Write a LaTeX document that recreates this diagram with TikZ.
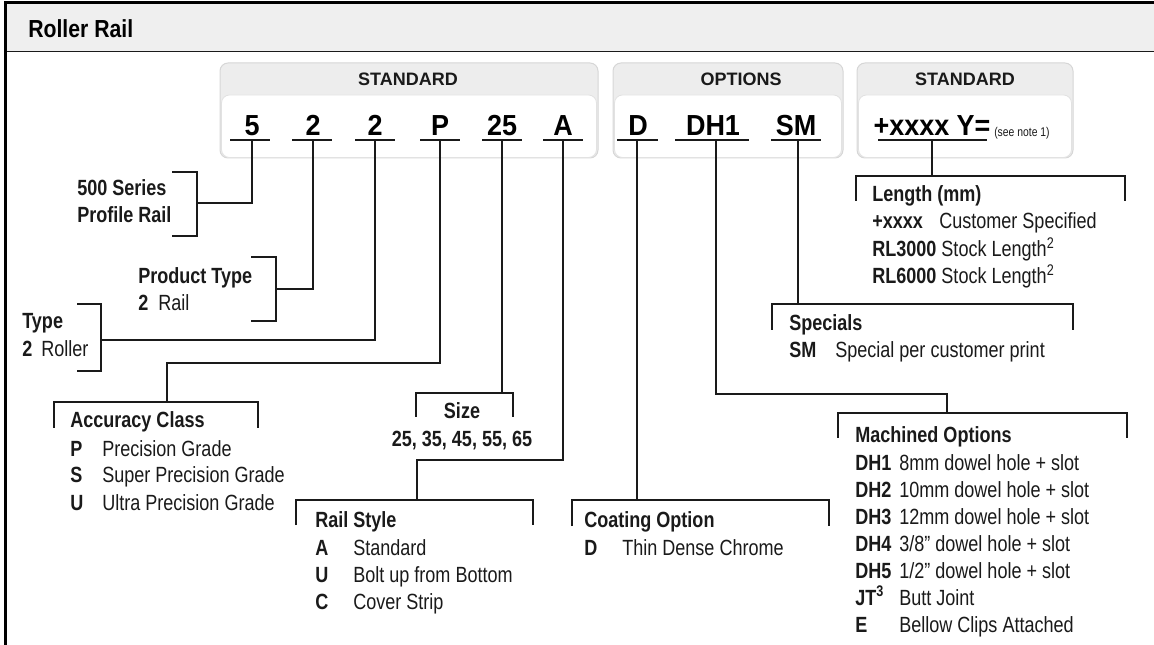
\documentclass[tikz,border=0pt]{standalone}
\usepackage{fontspec}
\setmainfont[FakeStretch=0.82]{Liberation Sans}
\newfontfamily\hdrfont{Liberation Sans}
\newfontfamily\codefont[FakeStretch=0.93]{Liberation Sans}
\newfontfamily\ttlfont[FakeStretch=0.86]{Liberation Sans}
\definecolor{bandgray}{HTML}{EFEFEF}
\definecolor{boxgray}{HTML}{EDEDED}
\definecolor{boxline}{HTML}{D6D6D6}
\definecolor{ink}{HTML}{1A1A1A}
\begin{document}
\begin{tikzpicture}[x=0.75pt,y=-0.75pt,
  conn/.style={draw=ink,line width=0.9pt},
  ul/.style={draw=ink,line width=1.2pt},
  body/.style={inner sep=0pt,anchor=base west,text=ink,font=\fontsize{16.5}{18}\selectfont},
  bodyb/.style={inner sep=0pt,anchor=base west,text=ink,font=\fontsize{16.5}{18}\selectfont\bfseries},
  code/.style={inner sep=0pt,anchor=base,text=black,font=\codefont\fontsize{21.75}{24}\selectfont\bfseries},
  hdr/.style={inner sep=0pt,anchor=base,text=ink,font=\hdrfont\fontsize{13.5}{15}\selectfont\bfseries},
  grp/.style={draw=boxline,fill=boxgray,rounded corners=6pt,line width=0.75pt},
  grpin/.style={draw=boxline!70,fill=white,rounded corners=6pt,line width=0.6pt}
]
\useasboundingbox (0,0) rectangle (1154,645);
% frame
\fill[bandgray] (5,3) rectangle (1154,52);
\draw[ink,line width=0.75pt] (5,52) -- (1154,52);
\draw[black,line width=2.25pt] (5,645) -- (5,3) -- (1154,3);
\node[inner sep=0pt,anchor=base west,font=\ttlfont\fontsize{18.5}{20}\selectfont\bfseries] (title) at (28,37.5) {Roller Rail};

% group boxes
\draw[grp] (220,63) rectangle (598,158);
\draw[grpin] (221.5,95) rectangle (596.5,157.5);
\draw[grp] (613,63) rectangle (843,158);
\draw[grpin] (614.5,95) rectangle (841.5,157.5);
\draw[grp] (857,63) rectangle (1073,158);
\draw[grpin] (858.5,95) rectangle (1071.5,157.5);
\node[hdr] (h1) at (408,85.5) {STANDARD};
\node[hdr] (h2) at (741,85.5) {OPTIONS};
\node[hdr] (h3) at (965,85.5) {STANDARD};

% codes
\node[code] (c5) at (252,135.5) {5};
\node[code] (c2a) at (313,135.5) {2};
\node[code] (c2b) at (375,135.5) {2};
\node[code] (cP) at (440,135.5) {P};
\node[code] (c25) at (502,135.5) {25};
\node[code] (cA) at (563,135.5) {A};
\node[code] (cD) at (638,135.5) {D};
\node[code] (cDH) at (713,135.5) {DH1};
\node[code] (cSM) at (796,135.5) {SM};
\node[code] (cLen) at (932,135.5) {+xxxx Y=};
\node[inner sep=0pt,anchor=base west,text=ink,font=\fontsize{9.5}{10}\selectfont] (note) at (994,137) {(see note 1)};

\draw[ul] (230,140) -- (270,140);
\draw[ul] (292,140) -- (332,140);
\draw[ul] (355,140) -- (395,140);
\draw[ul] (420,140) -- (460,140);
\draw[ul] (482,140) -- (522,140);
\draw[ul] (543,140) -- (583,140);
\draw[ul] (617,140) -- (658,140);
\draw[ul] (675,140) -- (749,140);
\draw[ul] (771,140) -- (821,140);
\draw[ul] (878,140) -- (987,140);

\coordinate (u5) at (252,140);
\coordinate (u2a) at (313,140);
\coordinate (u2b) at (375,140);
\coordinate (uP) at (440,140);
\coordinate (u25) at (502,140);
\coordinate (uA) at (563,140);
\coordinate (uD) at (637,140);
\coordinate (uDH) at (716,140);
\coordinate (uSM) at (798,140);
\coordinate (uLen) at (932,140);

% brackets and connectors
\draw[conn] (172,172) -- (197,172) -- (197,236) -- (172,236);
\coordinate (j500) at (197,203);
\draw[conn] (u5) |- (j500);

\draw[conn] (251,257) -- (276,257) -- (276,321) -- (251,321);
\coordinate (jPT) at (276,289);
\draw[conn] (u2a) |- (jPT);

\draw[conn] (77,304) -- (101,304) -- (101,371) -- (77,371);
\coordinate (jTy) at (101,340);
\draw[conn] (u2b) |- (jTy);

\draw[conn] (54,428) -- (54,402) -- (258,402) -- (258,428);
\coordinate (kP) at (167,363);
\coordinate (jAcc) at (167,402);
\draw[conn] (uP) |- (kP) -- (jAcc);

\draw[conn] (416,417) -- (416,393) -- (513,393) -- (513,417);
\coordinate (jSz) at (502,393);
\draw[conn] (u25) -- (jSz);

\draw[conn] (296,525) -- (296,500) -- (533,500) -- (533,525);
\coordinate (kA) at (417,460);
\coordinate (jRail) at (417,500);
\draw[conn] (uA) |- (kA) -- (jRail);

\draw[conn] (572,526) -- (572,500) -- (829,500) -- (829,526);
\coordinate (jCo) at (637,500);
\draw[conn] (uD) -- (jCo);

\draw[conn] (838,438) -- (838,413) -- (1127,413) -- (1127,438);
\coordinate (kDH) at (947,394);
\coordinate (jMa) at (947,413);
\draw[conn] (uDH) |- (kDH) -- (jMa);

\draw[conn] (772,330) -- (772,304) -- (1073,304) -- (1073,330);
\coordinate (jSp) at (798,304);
\draw[conn] (uSM) -- (jSp);

\draw[conn] (856,201) -- (856,176) -- (1125,176) -- (1125,201);
\coordinate (jLe) at (932,176);
\draw[conn] (uLen) -- (jLe);

% texts
\node[bodyb] (s500a) at (77,196) {500 Series};
\node[bodyb] (s500b) at (77,223) {Profile Rail};

\node[bodyb] (ptT) at (138,284) {Product Type};
\node[bodyb] (ptK) at (138,311) {2};
\node[body] (ptD) at (158,311) {Rail};

\node[bodyb] (tyT) at (22,329) {Type};
\node[bodyb] (tyK) at (22,357) {2};
\node[body] (tyD) at (41,357) {Roller};

\node[bodyb] (acT) at (70,428) {Accuracy Class};
\node[bodyb] (acK1) at (70,456) {P};
\node[body] (acD1) at (102,456) {Precision Grade};
\node[bodyb] (acK2) at (70,483) {S};
\node[body] (acD2) at (102,483) {Super Precision Grade};
\node[bodyb] (acK3) at (70,510) {U};
\node[body] (acD3) at (102,510) {Ultra Precision Grade};

\node[bodyb,anchor=base] (szT) at (462,419) {Size};
\node[bodyb,anchor=base] (szV) at (462,446) {25, 35, 45, 55, 65};

\node[bodyb] (rsT) at (315,527) {Rail Style};
\node[bodyb] (rsK1) at (315,555) {A};
\node[body] (rsD1) at (353,555) {Standard};
\node[bodyb] (rsK2) at (315,582) {U};
\node[body] (rsD2) at (353,582) {Bolt up from Bottom};
\node[bodyb] (rsK3) at (315,609) {C};
\node[body] (rsD3) at (353,609) {Cover Strip};

\node[bodyb] (coT) at (584,527) {Coating Option};
\node[bodyb] (coK) at (584,555) {D};
\node[body] (coD) at (622,555) {Thin Dense Chrome};

\node[bodyb] (maT) at (855,443) {Machined Options};
\node[bodyb] (maK1) at (855,470) {DH1};
\node[body] (maD1) at (899,470) {8mm dowel hole + slot};
\node[bodyb] (maK2) at (855,497) {DH2};
\node[body] (maD2) at (899,497) {10mm dowel hole + slot};
\node[bodyb] (maK3) at (855,524) {DH3};
\node[body] (maD3) at (899,524) {12mm dowel hole + slot};
\node[bodyb] (maK4) at (855,551) {DH4};
\node[body] (maD4) at (899,551) {3/8” dowel hole + slot};
\node[bodyb] (maK5) at (855,578) {DH5};
\node[body] (maD5) at (899,578) {1/2” dowel hole + slot};
\node[bodyb] (maK6) at (855,605) {JT\textsuperscript{3}};
\node[body] (maD6) at (899,605) {Butt Joint};
\node[bodyb] (maK7) at (855,632) {E};
\node[body] (maD7) at (899,632) {Bellow Clips Attached};

\node[bodyb] (leT) at (872,202) {Length (mm)};
\node[bodyb] (leK1) at (872,229) {+xxxx};
\node[body] (leD1) at (939,229) {Customer Specified};
\node[body] (leL2) at (872,257) {\textbf{RL3000} Stock Length\textsuperscript{2}};
\node[body] (leL3) at (872,284) {\textbf{RL6000} Stock Length\textsuperscript{2}};

\node[bodyb] (spT) at (789,331) {Specials};
\node[bodyb] (spK) at (789,358) {SM};
\node[body] (spD) at (835,358) {Special per customer print};
\end{tikzpicture}
\end{document}
